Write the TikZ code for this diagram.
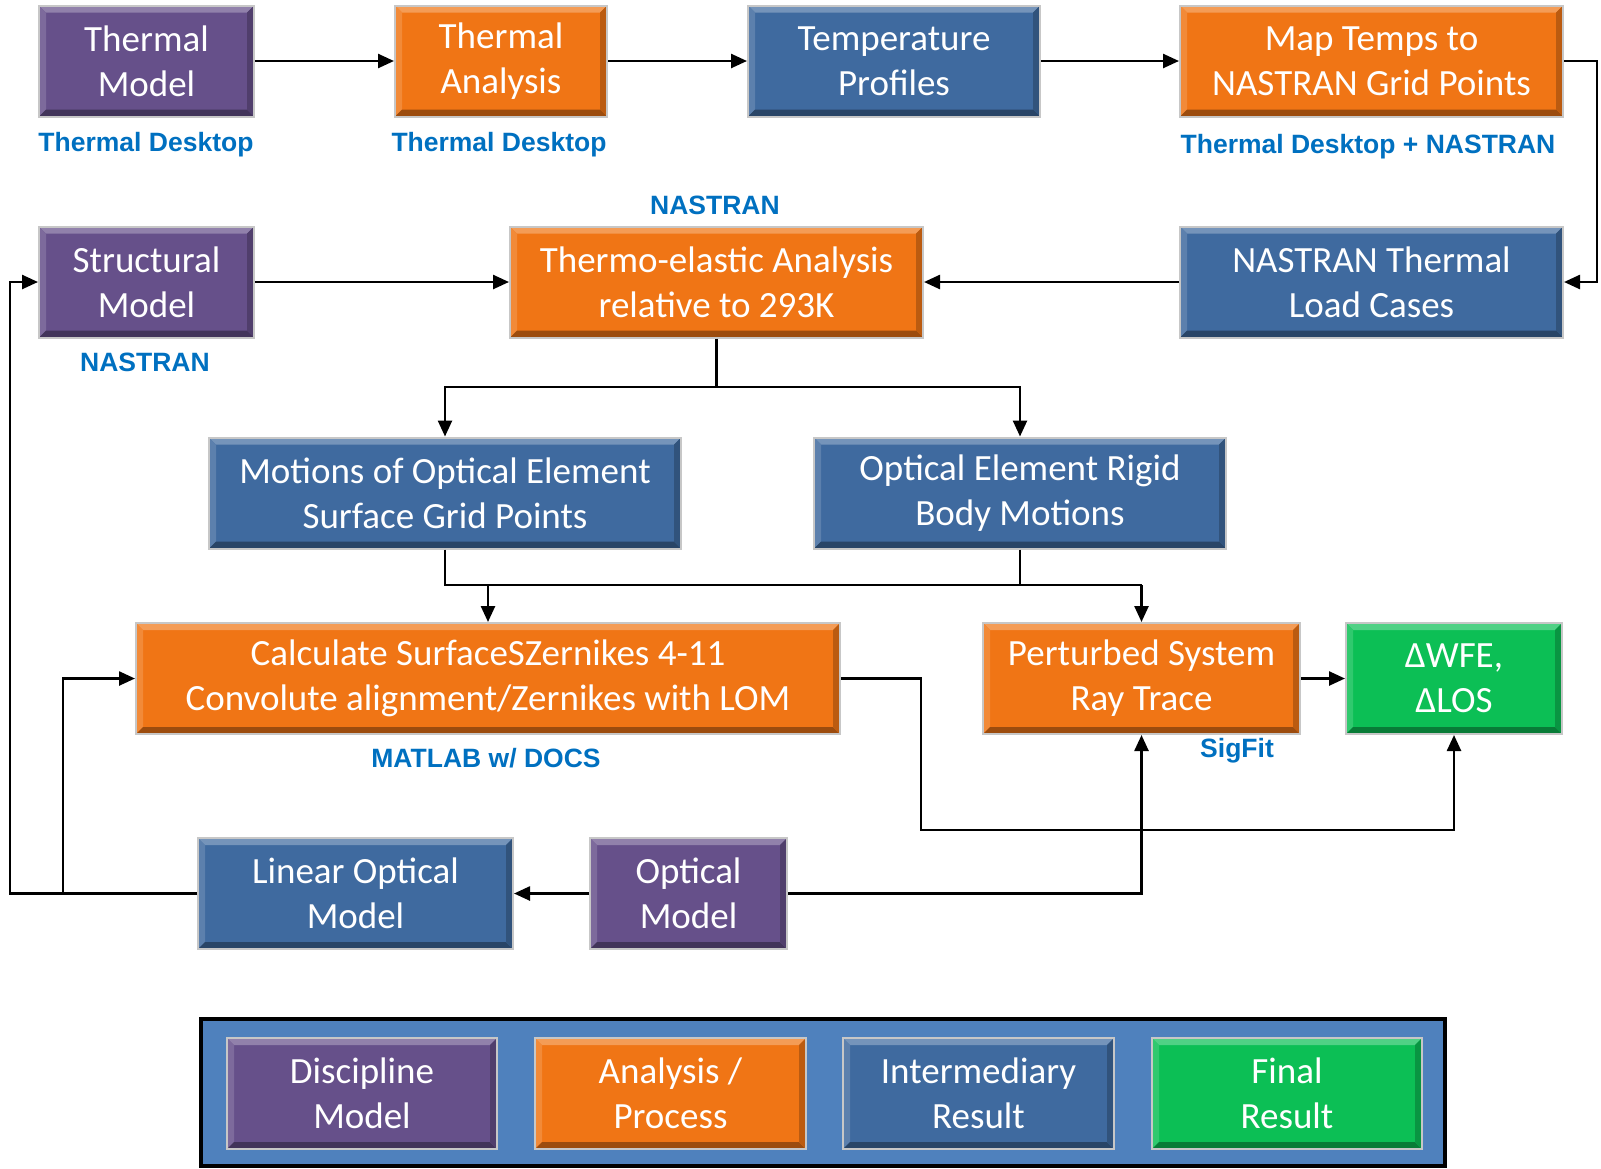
\documentclass[tikz,border=0pt]{standalone}
\usepackage{fontspec}
\setmainfont{Carlito}
\newfontfamily\lblfam{Liberation Sans}
\usetikzlibrary{arrows.meta}
\definecolor{cpurple}{HTML}{66508A}
\definecolor{corange}{HTML}{F07515}
\definecolor{cblue}{HTML}{3F6A9F}
\definecolor{cgreen}{HTML}{0CBF55}
\definecolor{clabel}{HTML}{0070C0}
\definecolor{clegend}{HTML}{4F81BD}
\begin{document}
\begin{tikzpicture}[x=0.5pt,y=-0.5pt,
  bevel/.style={fill=#1, draw=black!22, line width=1pt, text=white, align=center, inner sep=0pt,
    minimum height=55.5pt, font=\fontsize{18.5}{22.5}\selectfont,
    path picture={
      \def\bw{3.5pt}
      \fill[#1!72!white] (path picture bounding box.north west) -- (path picture bounding box.north east)
        -- ([xshift=-\bw,yshift=-\bw]path picture bounding box.north east) -- ([xshift=\bw,yshift=-\bw]path picture bounding box.north west) -- cycle;
      \fill[#1!85!white] (path picture bounding box.north west) -- (path picture bounding box.south west)
        -- ([xshift=\bw,yshift=\bw]path picture bounding box.south west) -- ([xshift=\bw,yshift=-\bw]path picture bounding box.north west) -- cycle;
      \fill[#1!65!black] (path picture bounding box.south west) -- (path picture bounding box.south east)
        -- ([xshift=-\bw,yshift=\bw]path picture bounding box.south east) -- ([xshift=\bw,yshift=\bw]path picture bounding box.south west) -- cycle;
      \fill[#1!78!black] (path picture bounding box.north east) -- (path picture bounding box.south east)
        -- ([xshift=-\bw,yshift=\bw]path picture bounding box.south east) -- ([xshift=-\bw,yshift=-\bw]path picture bounding box.north east) -- cycle;
    }},
  lbl/.style={text=clabel, font=\lblfam\bfseries\fontsize{13.25}{15}\selectfont, inner sep=0pt},
  arr/.style={draw=black, line width=1.25pt, -{Triangle[length=8pt,width=7pt]}},
  ln/.style={draw=black, line width=1.25pt}
]
\useasboundingbox (0,0) rectangle (1601,1168);

% row 1
\node[bevel=cpurple, minimum width=107.5pt] (tm) at (146.5,61) {Thermal\\Model};
\node[bevel=corange, minimum width=106pt] (ta) at (501,61) {Thermal\\Analysis};
\node[bevel=cblue, minimum width=146pt] (tp) at (894,61) {Temperature\\Profiles};
\node[bevel=corange, minimum width=191.5pt] (mt) at (1371.5,61) {Map Temps to\\NASTRAN Grid Points};
\node[lbl] (l1) at (146,145) {Thermal Desktop};
\node[lbl] (l2) at (499,145) {Thermal Desktop};
\node[lbl] (l3) at (1368,147) {Thermal Desktop + NASTRAN};

% row 2
\node[bevel=cpurple, minimum width=107.5pt] (sm) at (146.5,282) {Structural\\Model};
\node[bevel=corange, minimum width=206.5pt] (te) at (716.5,282) {Thermo-elastic Analysis\\relative to 293K};
\node[bevel=cblue, minimum width=191.5pt] (tlc) at (1371.5,282) {NASTRAN Thermal\\Load Cases};
\node[lbl] (l4) at (715,205) {NASTRAN};
\node[lbl] (l5) at (145,362) {NASTRAN};

% row 3
\node[bevel=cblue, minimum width=236pt] (mo) at (445,493) {Motions of Optical Element\\Surface Grid Points};
\node[bevel=cblue, minimum width=206pt] (rb) at (1020,493) {Optical Element Rigid\\Body Motions};

% row 4
\node[bevel=corange, minimum width=352pt] (calc) at (488,678.5) {Calculate SurfaceSZernikes 4-11\\Convolute alignment/Zernikes with LOM};
\node[bevel=corange, minimum width=158.5pt] (pert) at (1141.5,678.5) {Perturbed System\\Ray Trace};
\node[bevel=cgreen, minimum width=108pt] (wfe) at (1454,678.5) {ΔWFE,\\ΔLOS};
\node[lbl] (l6) at (486,758) {MATLAB w/ DOCS};
\node[lbl] (l7) at (1237,751) {SigFit};

% row 5
\node[bevel=cblue, minimum width=157.5pt] (lom) at (355.5,893.5) {Linear Optical\\Model};
\node[bevel=cpurple, minimum width=98.5pt] (om) at (688.5,893.5) {Optical\\Model};

% legend
\node[fill=clegend, draw=black, line width=2pt, minimum width=622pt, minimum height=73.5pt, inner sep=0pt] (leg) at (823,1092.5) {};
\node[bevel=cpurple, minimum width=135pt] (lg1) at (362,1093.5) {Discipline\\Model};
\node[bevel=corange, minimum width=135.5pt] (lg2) at (670.5,1093.5) {Analysis /\\Process};
\node[bevel=cblue, minimum width=135.5pt] (lg3) at (978.5,1093.5) {Intermediary\\Result};
\node[bevel=cgreen, minimum width=135pt] (lg4) at (1287,1093.5) {Final\\Result};

% coordinates
\coordinate (rx) at (1597,61);
\coordinate (lx) at (10,893.5);
\coordinate (bx) at (63,893.5);
\coordinate (h1) at (0,387);
\coordinate (h2) at (0,585);
\coordinate (c1) at (921,830);

% connectors
\draw[arr] (tm.east) -- (ta.west);
\draw[arr] (ta.east) -- (tp.west);
\draw[arr] (tp.east) -- (mt.west);
\draw[arr] (mt.east) -- (rx) |- (tlc.east);
\draw[arr] (tlc.west) -- (te.east);
\draw[arr] (sm.east) -- (te.west);
\draw[arr] (te.south) -- (te.south |- h1) -| (mo.north);
\draw[arr] (te.south |- h1) -| (rb.north);
\draw[ln] (mo.south) -- (mo.south |- h2) -- (pert.north |- h2);
\draw[ln] (rb.south) -- (rb.south |- h2);
\draw[arr] (calc.north |- h2) -- (calc.north);
\draw[arr] (pert.north |- h2) -- (pert.north);
\draw[arr] (pert.east) -- (wfe.west);
\draw[arr] (calc.east) -| (c1) -| (wfe.south);
\draw[arr] (om.west) -- (lom.east);
\draw[arr] (om.east) -| (pert.south);
\draw[arr] (lom.west) -- (lx) |- (sm.west);
\draw[arr] (bx) |- (calc.west);
\end{tikzpicture}
\end{document}
